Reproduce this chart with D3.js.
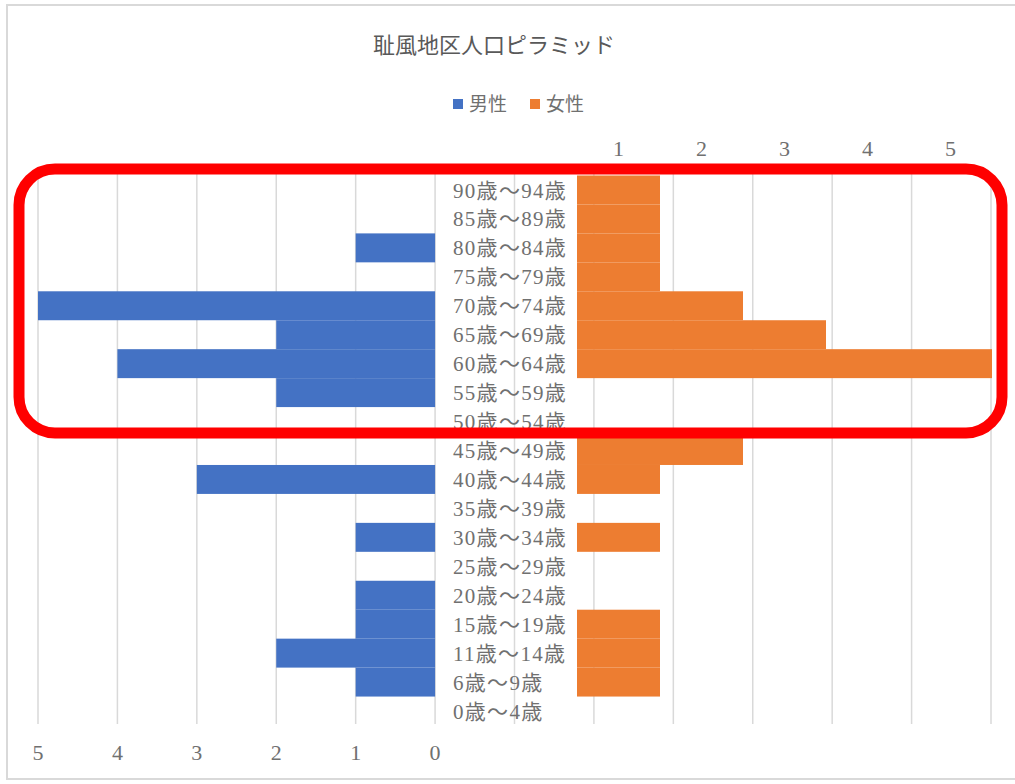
<!DOCTYPE html>
<html>
<head>
<meta charset="utf-8">
<script src="https://cdn.jsdelivr.net/npm/d3@7"></script>
<style>
  body { margin: 0; background: #ffffff; }
  svg { display: block; }
</style>
</head>
<body>
<div id="chart"></div>
<script>
// ---------------------------------------------------------
// DATA (top row = oldest group)
// ---------------------------------------------------------
const ageGroups = [
  "90歳～94歳", "85歳～89歳", "80歳～84歳", "75歳～79歳", "70歳～74歳",
  "65歳～69歳", "60歳～64歳", "55歳～59歳", "50歳～54歳", "45歳～49歳",
  "40歳～44歳", "35歳～39歳", "30歳～34歳", "25歳～29歳", "20歳～24歳",
  "15歳～19歳", "11歳～14歳", "6歳～9歳", "0歳～4歳"
];
const maleValues   = [0, 0, 1, 0, 5, 2, 4, 2, 0, 0, 3, 0, 1, 0, 1, 1, 2, 1, 0];
const femaleValues = [1, 1, 1, 1, 2, 3, 5, 0, 0, 2, 1, 0, 1, 0, 0, 1, 1, 1, 0];
const maleTicks = [5, 4, 3, 2, 1, 0];
const femaleTicks = [1, 2, 3, 4, 5];
const seriesNames = ["男性", "女性"];
const chartTitle = "耻風地区人口ピラミッド";

// ---------------------------------------------------------
// SETUP
// ---------------------------------------------------------
const width = 1015, height = 784;
const blue = "#4472C4", orange = "#ED7D31";
const textGray = "#707070";
const serif = "'Liberation Serif', 'DejaVu Serif', 'Noto Sans CJK JP', serif";

const svg = d3.select("#chart").append("svg")
  .attr("width", width).attr("height", height);

// chart frame
svg.append("rect")
  .attr("x", 7).attr("y", 5)
  .attr("width", 1020).attr("height", 774)
  .attr("fill", "#ffffff")
  .attr("stroke", "#d9d9d9").attr("stroke-width", 2);

// scales: male axis runs reversed and its grid carries on to the right
const xM = d3.scaleLinear().domain([5, -7]).range([38, 991]);
const xF = d3.scaleLinear().domain([0, 5]).range([577, 992]);
const y = d3.scaleBand().domain(ageGroups).range([175.5, 725.5]).padding(0);

// ---------------------------------------------------------
// GRID
// ---------------------------------------------------------
svg.append("g")
  .selectAll("line")
  .data(d3.range(5, -8, -1))
  .join("line")
  .attr("x1", d => xM(d)).attr("x2", d => xM(d))
  .attr("y1", 174).attr("y2", 724)
  .attr("stroke", "#d9d9d9").attr("stroke-width", 1.5);

// ---------------------------------------------------------
// BARS
// ---------------------------------------------------------
svg.append("g")
  .selectAll("rect")
  .data(ageGroups.map((a, i) => ({ a, v: maleValues[i] })).filter(d => d.v > 0))
  .join("rect")
  .attr("x", d => xM(d.v))
  .attr("y", d => y(d.a))
  .attr("width", d => xM(0) - xM(d.v))
  .attr("height", y.bandwidth())
  .attr("fill", blue);

svg.append("g")
  .selectAll("rect")
  .data(ageGroups.map((a, i) => ({ a, v: femaleValues[i] })).filter(d => d.v > 0))
  .join("rect")
  .attr("x", xF(0))
  .attr("y", d => y(d.a))
  .attr("width", d => xF(d.v) - xF(0))
  .attr("height", y.bandwidth())
  .attr("fill", orange);

// ---------------------------------------------------------
// CATEGORY LABELS
// ---------------------------------------------------------
svg.append("g")
  .selectAll("text")
  .data(ageGroups)
  .join("text")
  .attr("x", 453)
  .attr("y", d => y(d) + y.bandwidth() / 2)
  .attr("dy", "0.36em")
  .attr("fill", textGray)
  .style("font-family", serif)
  .style("font-size", "21px")
  .style("letter-spacing", "1.3px")
  .text(d => d);

// ---------------------------------------------------------
// AXIS LABELS
// ---------------------------------------------------------
svg.append("g")
  .selectAll("text")
  .data(maleTicks)
  .join("text")
  .attr("x", d => xM(d))
  .attr("y", 760)
  .attr("text-anchor", "middle")
  .attr("fill", textGray)
  .style("font-family", serif)
  .style("font-size", "22px")
  .text(d => d);

svg.append("g")
  .selectAll("text")
  .data(femaleTicks)
  .join("text")
  .attr("x", d => xF(d - 0.5))
  .attr("y", 156)
  .attr("text-anchor", "middle")
  .attr("fill", textGray)
  .style("font-family", serif)
  .style("font-size", "22px")
  .text(d => d);

// ---------------------------------------------------------
// TITLE + LEGEND
// ---------------------------------------------------------
svg.append("text")
  .attr("x", 494).attr("y", 53)
  .attr("text-anchor", "middle")
  .attr("fill", "#595959")
  .style("font-family", "'Noto Sans CJK JP', sans-serif")
  .style("font-size", "22px")
  .text(chartTitle);

const legend = svg.append("g")
  .selectAll("g")
  .data(seriesNames)
  .join("g")
  .attr("transform", (d, i) => `translate(${453 + i * 77}, 104)`);
legend.append("rect")
  .attr("x", 0).attr("y", -5)
  .attr("width", 10).attr("height", 10)
  .attr("fill", (d, i) => i === 0 ? blue : orange);
legend.append("text")
  .attr("x", 16).attr("y", 0)
  .attr("dy", "0.36em")
  .attr("fill", textGray)
  .style("font-family", "'Noto Sans CJK JP', sans-serif")
  .style("font-size", "19px")
  .text(d => d);

// ---------------------------------------------------------
// RED HIGHLIGHT FRAME
// ---------------------------------------------------------
svg.append("rect")
  .attr("x", 19).attr("y", 169)
  .attr("width", 983).attr("height", 264)
  .attr("rx", 36).attr("ry", 36)
  .attr("fill", "none")
  .attr("stroke", "#ff0000")
  .attr("stroke-width", 11);
</script>
</body>
</html>
